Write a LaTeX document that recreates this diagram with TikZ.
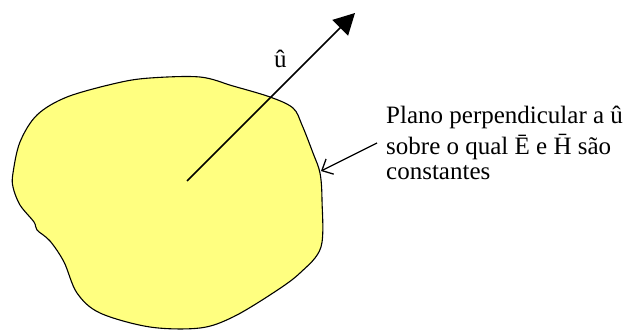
\documentclass[tikz,border=0pt]{standalone}
\usepackage{fontspec}
\setmainfont{Liberation Serif}
\usetikzlibrary{arrows.meta}
\definecolor{blobyellow}{RGB}{255,255,128}
\tikzset{
  lbl/.style={anchor=base west, inner sep=0pt, font=\fontsize{25}{30}\selectfont},
  blob/.style={draw=black, line width=1.1pt, fill=blobyellow},
  vec/.style={line width=1.5pt, -{Triangle[length=21pt,width=22pt]}},
  pointer/.style={line width=1.3pt, -{Straight Barb[length=9pt,width=17pt,line width=1.3pt]}}
}
\begin{document}
\begin{tikzpicture}[x=1pt,y=-1pt]
\useasboundingbox (0,0) rectangle (633,332);
\draw[blob] plot[smooth cycle, tension=0.55] coordinates {
 (13,173) (20,142) (37,115) (67,97) (117,83) (150,78) (200,77)
 (233,86) (270,97) (293,108) (302,125) (313,153) (320,173)
 (322,200) (321,247) (300,273) (273,293) (233,317) (200,328)
 (150,327) (100,313) (77,293) (64,262) (50,241) (37,230) (34,222)
 (20,205) (13,187)};
\coordinate (c) at (187,181);
\coordinate (tip) at (355,13);
\draw[vec] (c) -- (tip);
\node[lbl] (u) at (274,67) {\^u};
\node[lbl] (l1) at (386,123) {Plano perpendicular a \^u};
\node[lbl] (l2) at (386,154) {sobre o qual \=E e \=H são};
\node[lbl] (l3) at (386,179) {constantes};
\coordinate (ps) at (377,143);
\coordinate (pe) at (321,171);
\draw[pointer] (ps) -- (pe);
\end{tikzpicture}
\end{document}
